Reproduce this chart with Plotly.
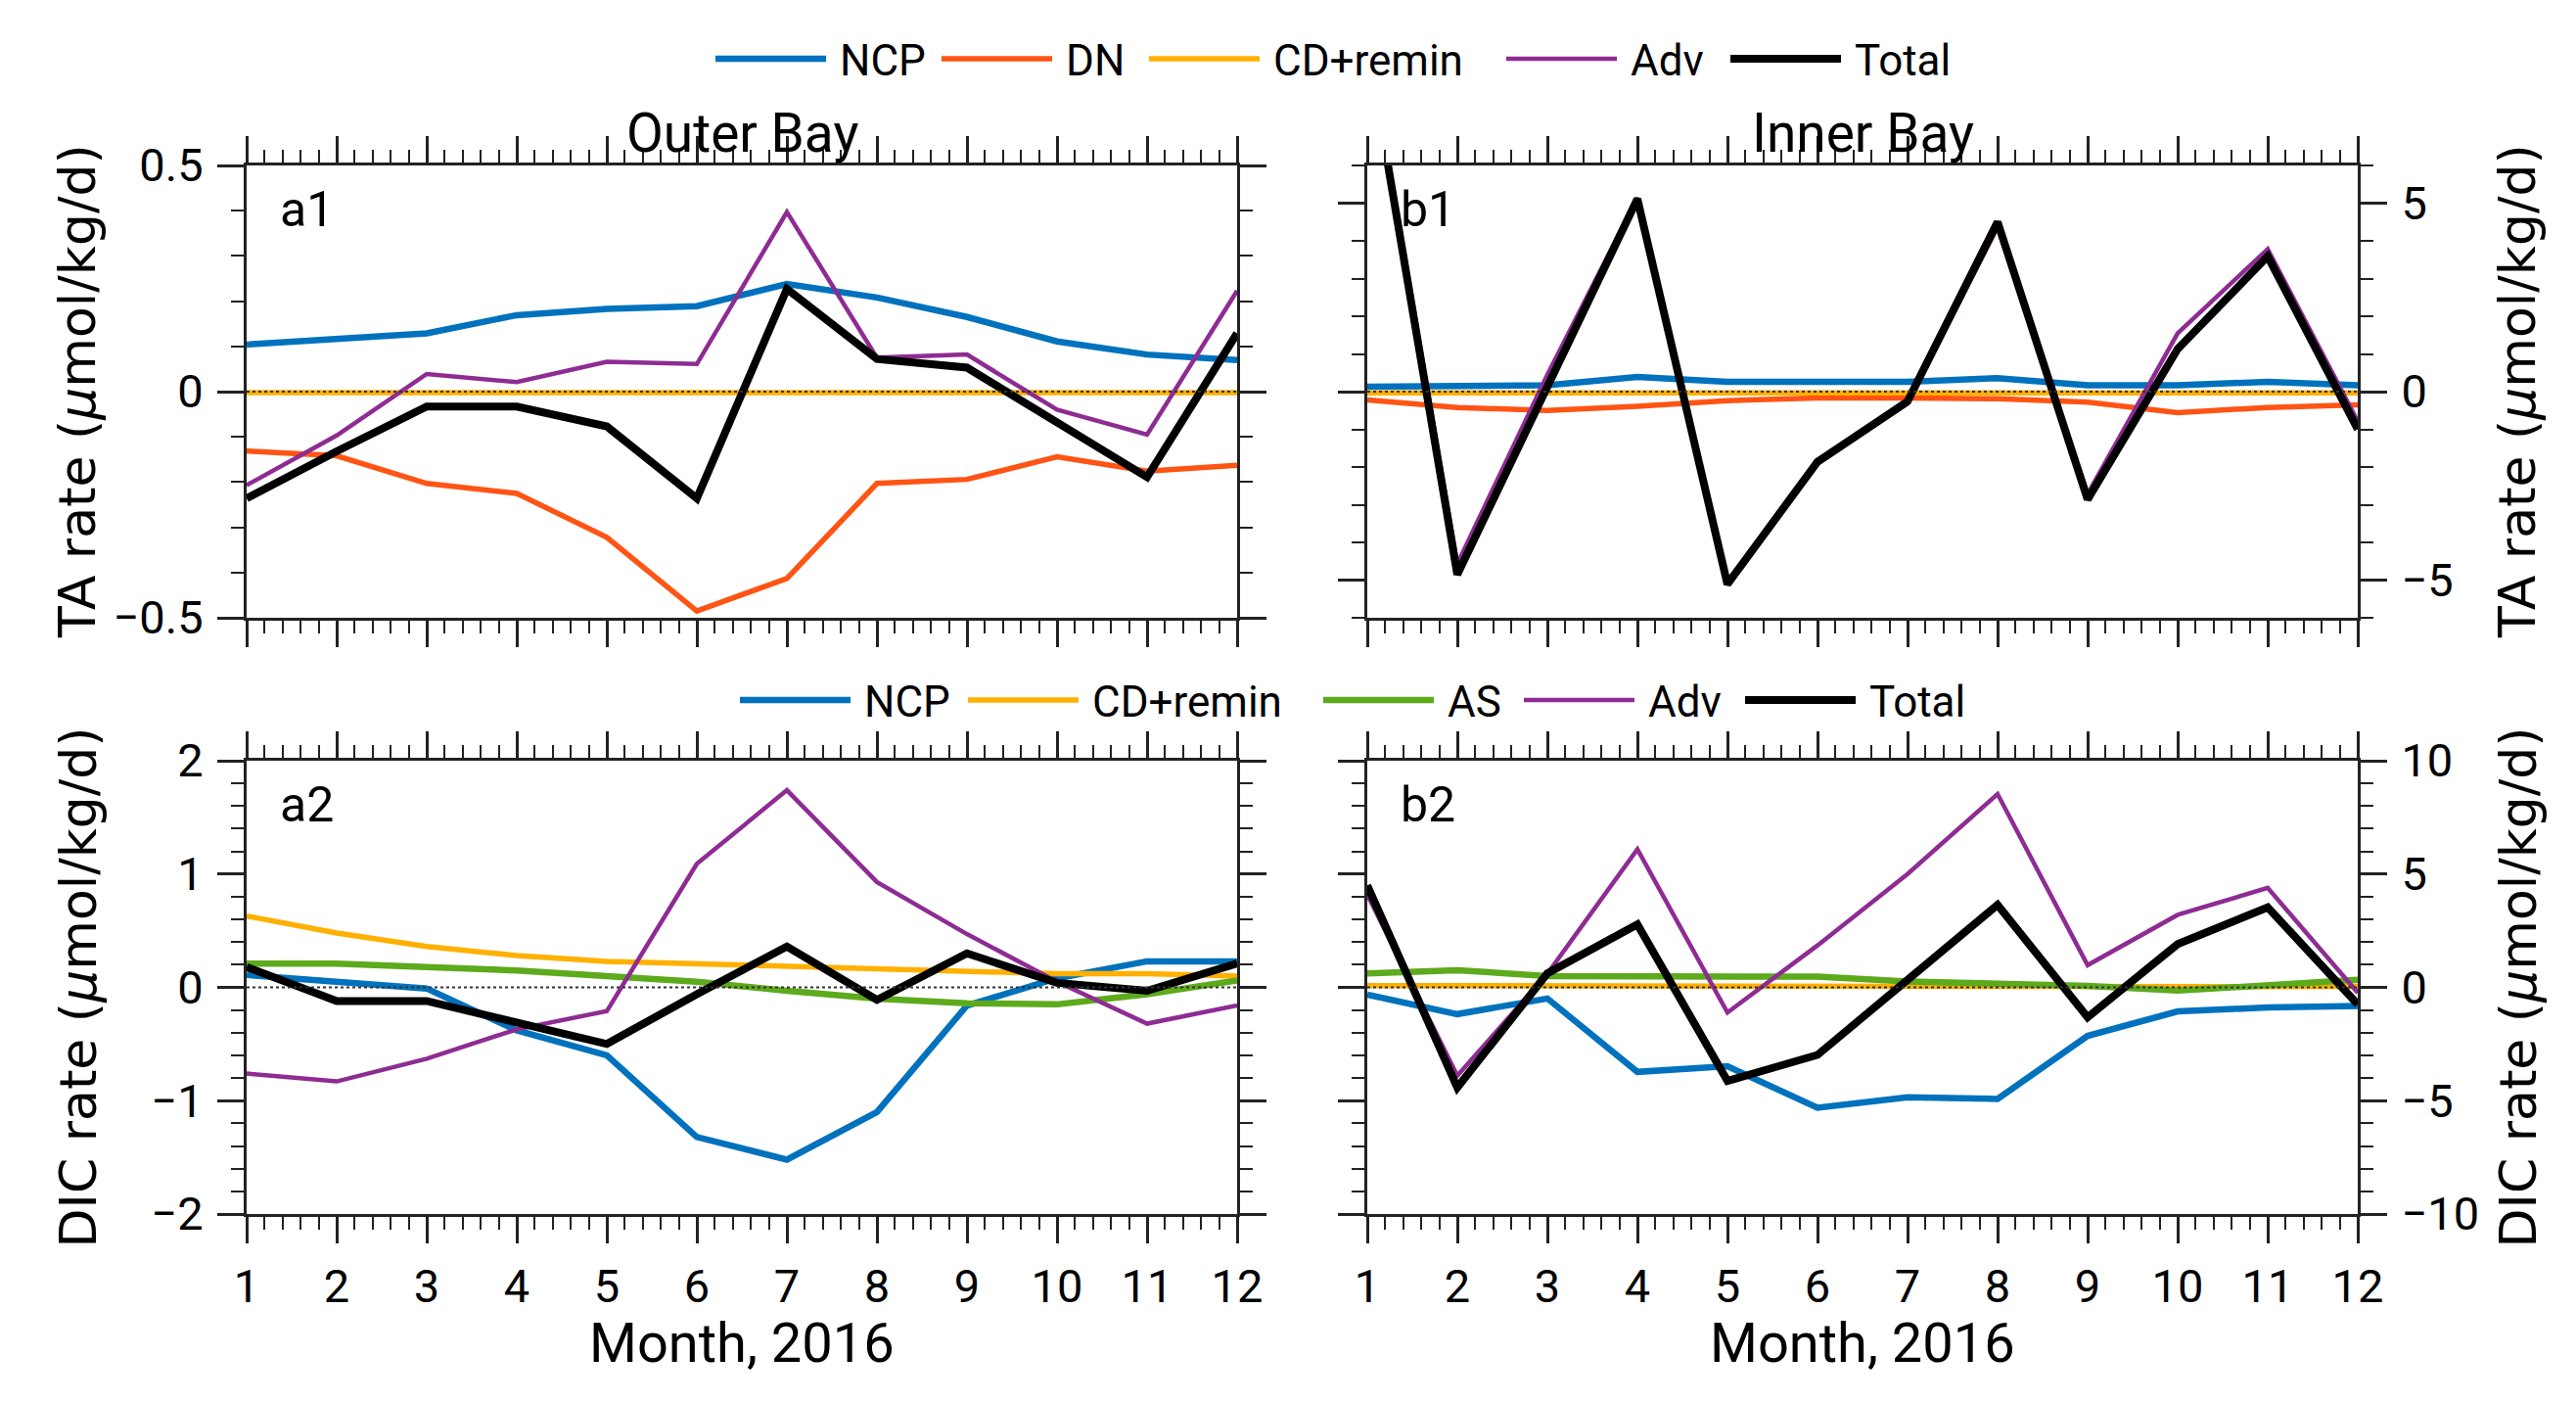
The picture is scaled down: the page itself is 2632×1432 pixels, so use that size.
"""Monthly TA and DIC rate budget terms, Outer Bay vs Inner Bay (2016)."""

import plotly.graph_objects as go

# page is 2632x1432; the html body adds an 8 px margin around the figure
PAGE_W, PAGE_H, BODY = 2632, 1432, 8
W, H = PAGE_W - 2 * BODY, PAGE_H - 2 * BODY

months = list(range(1, 13))

# TA rates, Outer Bay (a1)
ta_out_ncp = [0.104, 0.115, 0.129, 0.169, 0.183, 0.189, 0.238, 0.208, 0.165, 0.111, 0.082, 0.070]
ta_out_dn = [-0.131, -0.142, -0.203, -0.225, -0.322, -0.485, -0.413, -0.203, -0.194, -0.144, -0.176, -0.163]
ta_out_cd = [-0.002, -0.002, -0.002, -0.002, -0.002, -0.002, -0.002, -0.002, -0.002, -0.002, -0.002, -0.002]
ta_out_adv = [-0.207, -0.097, 0.039, 0.021, 0.066, 0.061, 0.397, 0.075, 0.082, -0.040, -0.095, 0.223]
ta_out_total = [-0.236, -0.132, -0.033, -0.033, -0.077, -0.236, 0.227, 0.072, 0.053, -0.069, -0.189, 0.129]

# TA rates, Inner Bay (b1)
ta_in_ncp = [0.13, 0.17, 0.17, 0.39, 0.26, 0.26, 0.26, 0.36, 0.17, 0.17, 0.26, 0.17]
ta_in_dn = [-0.22, -0.42, -0.50, -0.39, -0.24, -0.17, -0.17, -0.19, -0.28, -0.56, -0.42, -0.35]
ta_in_cd = [-0.03, -0.03, -0.03, -0.03, -0.03, -0.03, -0.03, -0.03, -0.03, -0.03, -0.03, -0.03]
ta_in_adv = [9.37, -4.57, 0.45, 5.14, -5.10, -1.92, -0.32, 4.36, -2.72, 1.55, 3.78, -0.79]
ta_in_total = [9.25, -4.85, 0.13, 5.11, -5.11, -1.86, -0.26, 4.50, -2.86, 1.13, 3.59, -1.00]

# DIC rates, Outer Bay (a2)
dic_out_ncp = [0.11, 0.05, -0.01, -0.38, -0.60, -1.32, -1.52, -1.10, -0.16, 0.08, 0.23, 0.23]
dic_out_cd = [0.63, 0.48, 0.36, 0.28, 0.23, 0.21, 0.19, 0.17, 0.15, 0.12, 0.12, 0.10]
dic_out_as = [0.21, 0.21, 0.18, 0.15, 0.10, 0.05, -0.03, -0.10, -0.14, -0.15, -0.06, 0.06]
dic_out_adv = [-0.76, -0.83, -0.63, -0.37, -0.21, 1.09, 1.74, 0.93, 0.47, 0.05, -0.32, -0.16]
dic_out_total = [0.18, -0.12, -0.12, -0.31, -0.50, -0.06, 0.36, -0.11, 0.30, 0.04, -0.03, 0.21]

# DIC rates, Inner Bay (b2)
dic_in_ncp = [-0.32, -1.18, -0.49, -3.73, -3.48, -5.31, -4.85, -4.92, -2.14, -1.06, -0.89, -0.82]
dic_in_cd = [0.08, 0.07, 0.06, 0.05, 0.05, 0.05, 0.04, 0.04, 0.03, 0.02, 0.03, 0.04]
dic_in_as = [0.62, 0.76, 0.50, 0.50, 0.50, 0.47, 0.26, 0.16, 0.07, -0.14, 0.07, 0.33]
dic_in_adv = [4.10, -3.90, 0.60, 6.09, -1.11, 1.85, 5.00, 8.53, 0.98, 3.20, 4.39, -0.24]
dic_in_total = [4.50, -4.42, 0.62, 2.78, -4.13, -2.98, 0.33, 3.64, -1.32, 1.91, 3.53, -0.75]

# line styles per term
styles = {
    "NCP": dict(color="#0072BD", width=6.5),
    "DN": dict(color="#FF5414", width=5.5),
    "CD+remin": dict(color="#FFB000", width=5.5),
    "AS": dict(color="#5DAA1C", width=6.5),
    "Adv": dict(color="#8E2C93", width=4.5),
    "Total": dict(color="#000000", width=8),
}

panels = [
    ("x", "y", {"NCP": ta_out_ncp, "DN": ta_out_dn, "CD+remin": ta_out_cd,
                "Adv": ta_out_adv, "Total": ta_out_total}),
    ("x2", "y2", {"NCP": ta_in_ncp, "DN": ta_in_dn, "CD+remin": ta_in_cd,
                  "Adv": ta_in_adv, "Total": ta_in_total}),
    ("x3", "y3", {"NCP": dic_out_ncp, "CD+remin": dic_out_cd, "AS": dic_out_as,
                  "Adv": dic_out_adv, "Total": dic_out_total}),
    ("x4", "y4", {"NCP": dic_in_ncp, "CD+remin": dic_in_cd, "AS": dic_in_as,
                  "Adv": dic_in_adv, "Total": dic_in_total}),
]

fig = go.Figure()
for xa, ya, series in panels:
    for name, vals in series.items():
        fig.add_trace(go.Scatter(
            x=months, y=vals, mode="lines", name=name, xaxis=xa, yaxis=ya,
            line=styles[name], showlegend=False,
        ))


def px(p):
    """page pixel (from left) -> paper x"""
    return (p - BODY) / W


def py(p):
    """page pixel (from top) -> paper y"""
    return 1 - (p - BODY) / H


AX = "#222222"
NARROW = "Roboto, DejaVu Sans"
TICKFONT = dict(family=NARROW, size=47, color="black")

# panel boxes, measured in page pixels
col_a = (px(252), px(1264))
col_b = (px(1397), px(2409))
row_1 = (py(631), py(169))
row_2 = (py(1240), py(777))


def xaxis(domain, anchor, labels):
    return dict(
        domain=domain, anchor=anchor, range=[1, 12],
        tickmode="linear", tick0=1, dtick=1,
        ticks="outside", ticklen=27, tickwidth=2.5, tickcolor=AX,
        showline=True, linewidth=3, linecolor=AX, mirror="ticks",
        showgrid=False, zeroline=False, showticklabels=labels,
        tickfont=TICKFONT, ticklabelstandoff=4,
        minor=dict(tick0=1, dtick=0.2, ticks="outside", ticklen=13,
                   tickwidth=2, tickcolor=AX, showgrid=False),
        automargin=False,
    )


def yaxis(domain, anchor, rng, tickvals, minor_dtick, side):
    return dict(
        domain=domain, anchor=anchor, range=rng, side=side,
        tickmode="array", tickvals=tickvals,
        ticks="outside", ticklen=27, tickwidth=2.5, tickcolor=AX,
        showline=True, linewidth=3, linecolor=AX, mirror="ticks",
        showgrid=False, zeroline=False, tickfont=TICKFONT,
        ticklabelstandoff=5,
        minor=dict(tick0=0, dtick=minor_dtick, ticks="outside", ticklen=13,
                   tickwidth=2, tickcolor=AX, showgrid=False),
        automargin=False,
    )


fig.update_layout(
    width=W, height=H,
    margin=dict(l=0, r=0, t=0, b=0),
    paper_bgcolor="white", plot_bgcolor="white",
    showlegend=False,
    xaxis=xaxis(col_a, "y", False),
    xaxis2=xaxis(col_b, "y2", False),
    xaxis3=xaxis(col_a, "y3", True),
    xaxis4=xaxis(col_b, "y4", True),
    yaxis=yaxis(row_1, "x", [-0.5, 0.5], [-0.5, 0, 0.5], 0.1, "left"),
    yaxis2=yaxis(row_1, "x2", [-6, 6], [-5, 0, 5], 1, "right"),
    yaxis3=yaxis(row_2, "x3", [-2, 2], [-2, -1, 0, 1, 2], 0.2, "left"),
    yaxis4=yaxis(row_2, "x4", [-10, 10], [-10, -5, 0, 5, 10], 1, "right"),
)

# dotted zero reference line in every panel
for xa, ya, _ in panels:
    fig.add_shape(type="line", xref=f"{xa} domain", yref=ya, x0=0, x1=1, y0=0, y1=0,
                  line=dict(color="#333333", width=2, dash="dot"), layer="above")

annotations = []

# panel labels
for text, col, ytop in [("a1", col_a, 214), ("b1", col_b, 214),
                        ("a2", col_a, 822), ("b2", col_b, 822)]:
    annotations.append(dict(
        text=text, xref="paper", yref="paper",
        x=col[0] + 32 / W, y=py(ytop), xanchor="left", yanchor="middle",
        showarrow=False, font=dict(family=NARROW, size=50, color="black"),
    ))

# column titles and x-axis titles
for text, col in [("Outer Bay", col_a), ("Inner Bay", col_b)]:
    annotations.append(dict(
        text=text, xref="paper", yref="paper", x=(col[0] + col[1]) / 2, y=py(136),
        xanchor="center", yanchor="middle", showarrow=False,
        font=dict(family=NARROW, size=55, color="black"),
    ))
    annotations.append(dict(
        text="Month, 2016", xref="paper", yref="paper", x=(col[0] + col[1]) / 2,
        y=py(1372), xanchor="center", yanchor="middle", showarrow=False,
        font=dict(family=NARROW, size=56, color="black"),
    ))

# y-axis titles, on both sides
for text, row in [("TA rate (<i>μ</i>mol/kg/d)", row_1), ("DIC rate (<i>μ</i>mol/kg/d)", row_2)]:
    for xpix in (79, 2572):
        annotations.append(dict(
            text=text, xref="paper", yref="paper", x=px(xpix), y=(row[0] + row[1]) / 2,
            xanchor="center", yanchor="middle", textangle=-90, showarrow=False,
            font=dict(family="DejaVu Sans", size=52, color="black"),
        ))

# legends drawn above each row: (name, left page pixel of line sample)
legend_rows = [
    (60, [("NCP", 731), ("DN", 962), ("CD+remin", 1174), ("Adv", 1539), ("Total", 1768)]),
    (715, [("NCP", 756), ("CD+remin", 989), ("AS", 1352), ("Adv", 1557), ("Total", 1783)]),
]
SAMPLE = 113
for ypix, entries in legend_rows:
    for name, x0 in entries:
        st = styles[name]
        fig.add_shape(type="line", xref="paper", yref="paper",
                      x0=px(x0), x1=px(x0 + SAMPLE), y0=py(ypix), y1=py(ypix),
                      line=dict(color=st["color"], width=st["width"]))
        annotations.append(dict(
            text=name, xref="paper", yref="paper", x=px(x0 + SAMPLE + 12), y=py(ypix + 2),
            xanchor="left", yanchor="middle", showarrow=False,
            font=dict(family=NARROW, size=44, color="black"),
        ))

fig.update_layout(annotations=annotations)

fig.write_html("out.html")
